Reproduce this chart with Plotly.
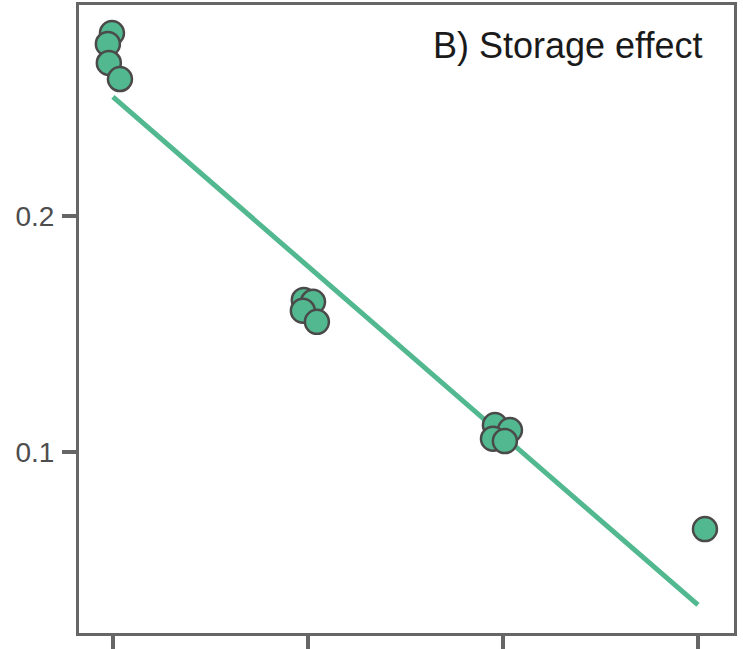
import plotly.graph_objects as go

# Data
point_x = [0.995, 0.974, 0.979, 1.036,
           1.979, 2.026, 1.974, 2.046,
           2.959, 3.036, 2.949, 3.010,
           4.036]
point_y = [0.2776, 0.2730, 0.2649, 0.2581,
           0.1644, 0.1636, 0.1598, 0.1551,
           0.1113, 0.1092, 0.1055, 0.1045,
           0.0672]
fit_x = [1, 4]
fit_y = [0.2505, 0.0350]
x_ticks = [1, 2, 3, 4]
y_ticks = [0.1, 0.2]
y_labels = ["0.1", "0.2"]
panel_label = "B) Storage effect"

green = "#52b88f"
frame = "#666666"

fig = go.Figure()
fig.add_trace(go.Scatter(x=fit_x, y=fit_y, mode="lines",
                         line=dict(color=green, width=5), showlegend=False,
                         hoverinfo="skip"))
fig.add_trace(go.Scatter(x=point_x, y=point_y, mode="markers",
                         marker=dict(size=24, color=green,
                                     line=dict(color="#4a4a4a", width=2.5)),
                         showlegend=False))

fig.update_layout(
    width=743, height=649,
    margin=dict(l=79, r=9, t=5, b=16),
    plot_bgcolor="white", paper_bgcolor="white",
    font=dict(family="Liberation Sans, Arial, sans-serif", color="#4d4d4d", size=26),
    xaxis=dict(range=[0.826, 4.185], tickvals=x_ticks, showticklabels=False,
               ticks="outside", ticklen=18, tickwidth=4, tickcolor=frame,
               showline=True, linewidth=3, linecolor=frame, mirror=True,
               showgrid=False, zeroline=False, automargin=False),
    yaxis=dict(range=[0.0231, 0.2895], tickvals=y_ticks, ticktext=y_labels,
               ticks="outside", ticklen=14, tickwidth=4, tickcolor=frame,
               showline=True, linewidth=3, linecolor=frame, mirror=True,
               showgrid=False, zeroline=False, automargin=False,
               ticklabelstandoff=2,
               tickfont=dict(size=28, color="#4d4d4d",
                             family="Liberation Sans, Arial, sans-serif")),
    annotations=[dict(text=panel_label, xref="paper", yref="paper",
                      x=0.956, y=0.935, xanchor="right", yanchor="middle",
                      showarrow=False,
                      font=dict(size=36, color="#1a1a1a",
                                family="Liberation Sans, Arial, sans-serif"))],
)

fig.write_html("out.html")
